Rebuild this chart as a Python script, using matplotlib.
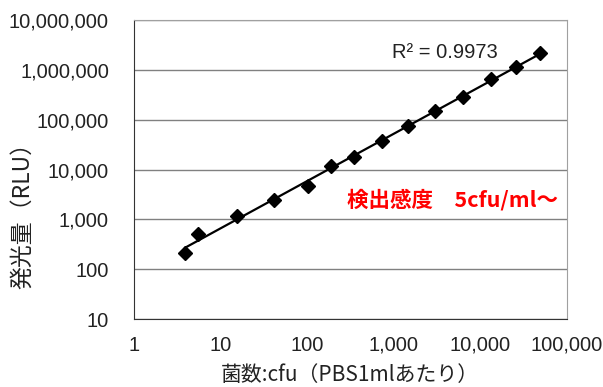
import numpy as np
import matplotlib
matplotlib.use("Agg")
import matplotlib.pyplot as plt
from matplotlib.ticker import FuncFormatter, LogLocator

# cfu (PBS 1 ml) vs luminescence (RLU)
cfu = [3.9, 5.5, 15.5, 41, 102, 188, 347, 731, 1460, 2990, 6300, 13250, 25800, 48800]
rlu = [211, 508, 1170, 2440, 4670, 11750, 17800, 37300, 74700, 149000,
       285000, 655000, 1140000, 2180000]
r2_text = "R\u00b2 = 0.9973"
sens_text = "検出感度\u30005cfu/ml～"
xlabel = "菌数:cfu（PBS1mlあたり）"
ylabel = "発光量（RLU）"

cjk = ["Noto Sans CJK JP", "DejaVu Sans"]

fig = plt.figure(figsize=(6.03, 3.87), dpi=100)
ax = fig.add_axes([0.2222, 0.1757, 0.7181, 0.7726])

ax.set_xscale("log")
ax.set_yscale("log")
ax.set_xlim(1, 100000)
ax.set_ylim(10, 10000000)

# power-law trend line through the points
lx, ly = np.log10(cfu), np.log10(rlu)
slope, icpt = np.polyfit(lx, ly, 1)
xs = np.logspace(lx.min(), lx.max(), 50)
ax.plot(xs, 10 ** (icpt + slope * np.log10(xs)), color="black", lw=1.6, zorder=3)
ax.plot(cfu, rlu, ls="none", marker="D", ms=7, color="black", zorder=4)

ax.xaxis.set_major_locator(LogLocator(base=10, numticks=10))
ax.yaxis.set_major_locator(LogLocator(base=10, numticks=10))
ax.xaxis.set_minor_locator(plt.NullLocator())
ax.yaxis.set_minor_locator(plt.NullLocator())
fmt = FuncFormatter(lambda v, p: "{:,}".format(int(round(v))))
ax.xaxis.set_major_formatter(fmt)
ax.yaxis.set_major_formatter(fmt)

ax.tick_params(axis="both", length=0, labelsize=14.5, colors="#222222")
ax.tick_params(axis="y", pad=18)
ax.tick_params(axis="x", pad=12)
for lab in ax.get_xticklabels() + ax.get_yticklabels():
    lab.set_family("Liberation Sans")

ax.grid(axis="y", color="#808080", lw=1)
ax.set_axisbelow(True)
for side in ("top", "right"):
    ax.spines[side].set_color("#a0a0a0")
for side in ("left", "bottom"):
    ax.spines[side].set_color("#333333")

ax.text(0.596, 0.890, r2_text, transform=ax.transAxes, fontsize=14.5,
        family="Liberation Sans", va="center", ha="left", color="#222222")
ax.text(0.492, 0.398, sens_text, transform=ax.transAxes, fontsize=15.5,
        family=cjk, weight="bold", color="#ff0000", va="center", ha="left")

fig.text(23 / 603, 1 - 210 / 387, ylabel, rotation=90, ha="center", va="center",
         fontsize=16.5, family=cjk, color="#222222")
fig.text(350 / 603, 1 - 375 / 387, xlabel, ha="center", va="center",
         fontsize=15, family=cjk, color="#222222")

fig.savefig("out.png", dpi=100)
